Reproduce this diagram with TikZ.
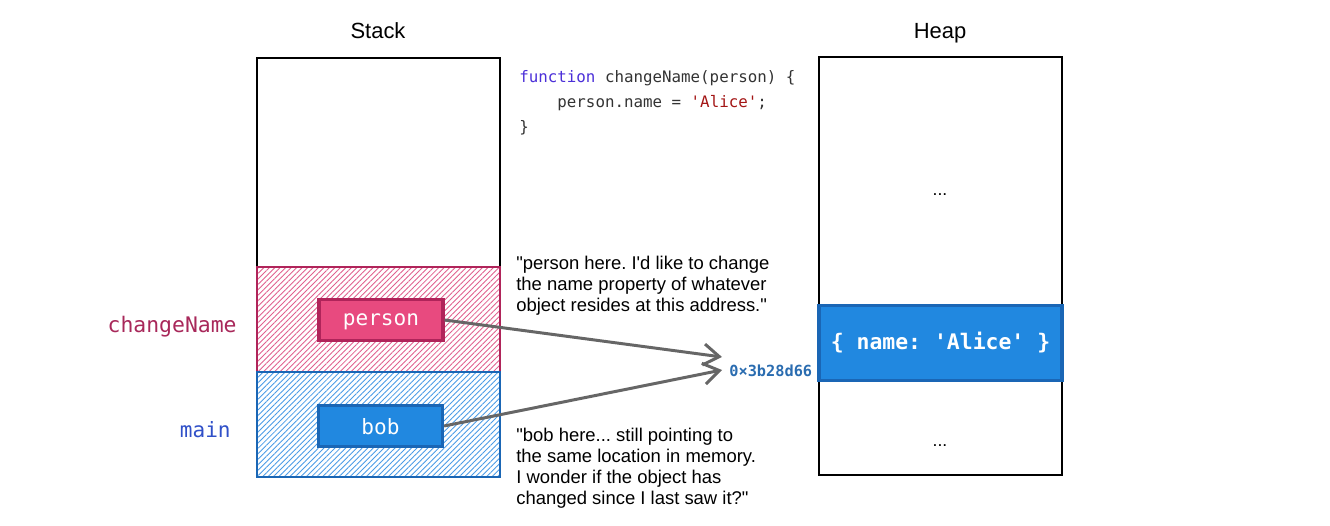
\documentclass[tikz,border=0pt]{standalone}
\usepackage{fontspec}
\setmainfont{Liberation Sans}[Ligatures=TeXOff]
\setmonofont{DejaVu Sans Mono}
\usetikzlibrary{arrows.meta,patterns.meta}
\frenchspacing

\definecolor{pinkfill}{HTML}{E84A7F}
\definecolor{pinkline}{HTML}{B0245A}
\definecolor{pinkhatch}{HTML}{E0608E}
\definecolor{bluefill}{HTML}{2188E0}
\definecolor{blueline}{HTML}{1A66B5}
\definecolor{bluehatch}{HTML}{4A9BE6}
\definecolor{fnlabel}{HTML}{A8285A}
\definecolor{mainlabel}{HTML}{3050C8}
\definecolor{keyword}{HTML}{4B2FD8}
\definecolor{codetext}{HTML}{333333}
\definecolor{codestr}{HTML}{A31515}
\definecolor{addrblue}{HTML}{2A6CB0}
\definecolor{ptrgray}{HTML}{666666}

\begin{document}
\begin{tikzpicture}[x=0.02cm,y=-0.02cm,
  framebox/.style={draw=black,line width=1.2pt},
  varbox/.style={minimum width=124*0.02cm,minimum height=41*0.02cm,inner sep=0pt,line width=1.8pt,
    text depth=0pt,text=white,font=\fontsize{12}{14}\selectfont\ttfamily},
  quote/.style={anchor=north west,align=left,inner sep=0pt,font=\fontsize{10.5}{11.9}\selectfont},
  pointer/.style={draw=ptrgray,line width=1.7pt,-{Straight Barb[length=9pt,width=12pt,line width=1.7pt]}}]
\useasboundingbox (0,0) rectangle (1330,526);

% titles
\node (stacktitle) at (378,31) {\fontsize{12.5}{14}\selectfont Stack};
\node (heaptitle) at (940,33) {\fontsize{12.5}{14}\selectfont Heap};

% stack frames
\draw [framebox] (257,58) rectangle (500,477);
\draw [pattern={Lines[angle=45,distance=2.2pt,line width=0.5pt]},pattern color=pinkhatch,draw=pinkline,line width=1.2pt]
  (257,267) rectangle (500,372);
\draw [pattern={Lines[angle=45,distance=2.2pt,line width=0.5pt]},pattern color=bluehatch,draw=blueline,line width=1.2pt]
  (257,372) rectangle (500,477);
\node [varbox,fill=pinkfill,draw=pinkline] (person) at (381,320) {person};
\node [varbox,fill=bluefill,draw=blueline] (bob) at (380.5,426) {bob};
\node [anchor=east,inner sep=0pt,text=fnlabel,font=\fontsize{12.2}{14}\selectfont\ttfamily] (fnname) at (237,327) {changeName};
\node [anchor=east,inner sep=0pt,text=mainlabel,font=\fontsize{12}{14}\selectfont\ttfamily] (mainname) at (231,430) {main};

% heap
\draw [framebox] (819,57) rectangle (1062,475);
\node (dots1) at (940,195) {...};
\node (dots2) at (940,446) {...};
\node [fill=bluefill,draw=blueline,line width=1.8pt,minimum width=243*0.02cm,minimum height=75*0.02cm,inner sep=0pt,
  text=white,font=\fontsize{12.2}{14}\selectfont\ttfamily\bfseries] (obj) at (940.5,343) {\{ name: 'Alice' \}};

% code
\node [anchor=north west,align=left,inner sep=0pt,font=\fontsize{9}{14.2}\selectfont\ttfamily,text=codetext] (code) at (519,70)
  {\textcolor{keyword}{function} changeName(person) \{\\
  \hspace*{4\fontcharwd\font`M}person.name = \textcolor{codestr}{'Alice'};\\
  \}};

% comments
\node [quote] (quote1) at (516,256) {"person here. I'd like to change\\the name property of whatever\\object resides at this address."};
\node [quote] (quote2) at (516,428) {"bob here... still pointing to\\the same location in memory.\\I wonder if the object has\\changed since I last saw it?"};

% address and pointers
\node [anchor=west,inner sep=0pt,text=addrblue,font=\fontsize{8.7}{10}\selectfont\ttfamily\bfseries] (addr) at (729,371) {0×3b28d66};
\coordinate (ptr1) at (722,357);
\coordinate (ptr2) at (722,370);
\draw [pointer] (person.east) -- (ptr1);
\draw [pointer] (bob.east) -- (ptr2);
\end{tikzpicture}
\end{document}
